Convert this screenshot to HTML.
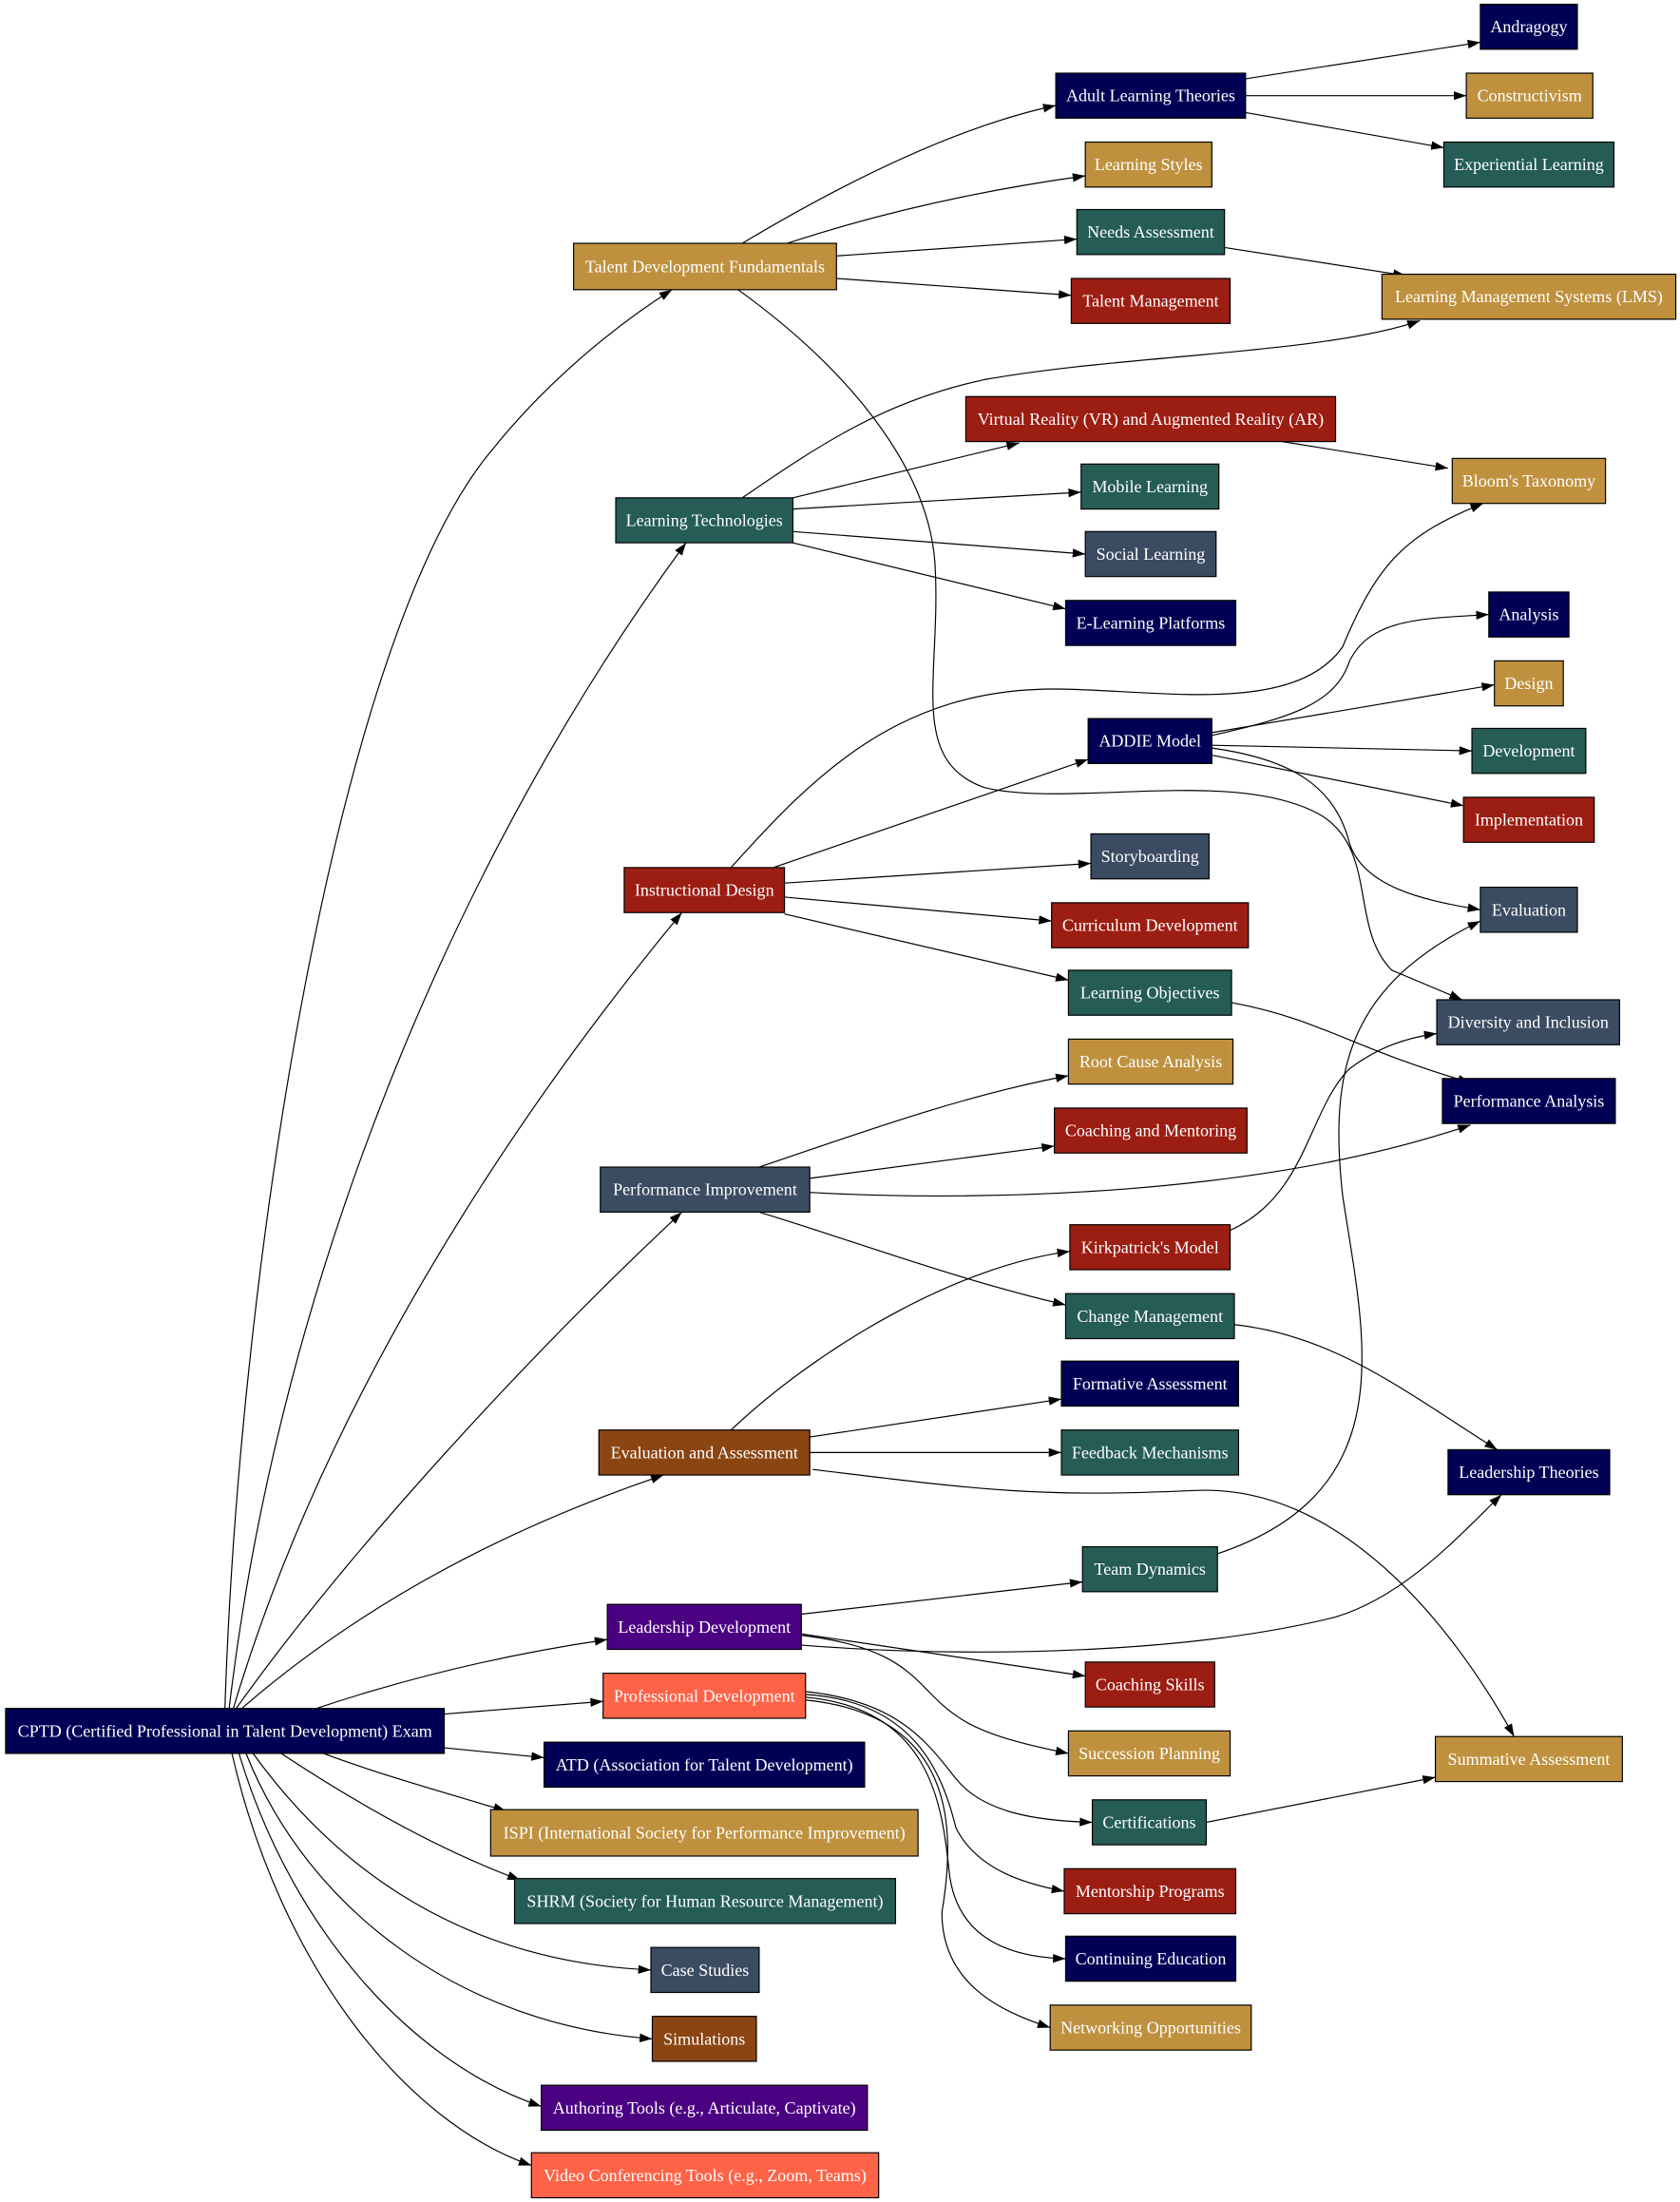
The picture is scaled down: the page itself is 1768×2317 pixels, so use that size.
<!DOCTYPE html>
<html><head><meta charset="utf-8"><style>html,body{margin:0;padding:0;background:#fff}svg{display:block}text{font-family:"Liberation Serif",serif;font-size:12.2px;fill:#fff;text-anchor:middle;dominant-baseline:central}</style></head><body>
<svg width="1768" height="2317" viewBox="0 0 1195 1566" xmlns="http://www.w3.org/2000/svg">
<defs><marker id="a" viewBox="0 0 10 10" refX="10" refY="5" markerWidth="9" markerHeight="9" markerUnits="userSpaceOnUse" orient="auto"><path d="M0,1.5 L10,5 L0,8.5 z" fill="#000"/></marker></defs>
<g fill="none" stroke="#000" stroke-width="0.8" marker-end="url(#a)">
<path d="M160,1215 C170,900 240,450 350,320 C390,270 440,230 478,206"/>
<path d="M163,1215 C200,900 330,600 488,386"/>
<path d="M166,1215 C230,1000 360,800 485,649"/>
<path d="M168,1215 C250,1100 380,960 485,862"/>
<path d="M172,1215 C270,1130 380,1080 472,1049"/>
<path d="M225,1215 C300,1190 370,1175 432,1166"/>
<path d="M316,1219 L429,1210"/>
<path d="M316,1243 L387,1250"/>
<path d="M230,1247 C270,1262 320,1276 360,1288"/>
<path d="M200,1247 C250,1280 310,1315 370,1337"/>
<path d="M180,1247 C240,1330 330,1395 463,1401"/>
<path d="M175,1247 C220,1360 330,1440 464,1450"/>
<path d="M170,1247 C210,1380 300,1470 385,1498"/>
<path d="M165,1247 C200,1400 290,1510 378,1540"/>
<path d="M528,173 C600,130 680,90 751,75"/>
<path d="M560,173 C630,150 700,135 772,125"/>
<path d="M595,182 L766,170"/>
<path d="M595,198 L762,210"/>
<path d="M525,206 C600,260 660,330 665,400 C670,480 645,540 700,560 C760,575 880,545 940,580 C980,605 960,660 990,690 L1040,711"/>
<path d="M886,56 L1053,30"/>
<path d="M886,68 L1043,68"/>
<path d="M886,80 L1027,105"/>
<path d="M871,176 L1000,196"/>
<path d="M528,354 C585,315 630,285 700,270 C800,252 940,252 1010,228"/>
<path d="M564,354 L725,315"/>
<path d="M564,362 L769,350"/>
<path d="M564,378 L772,394"/>
<path d="M564,386 L758,433"/>
<path d="M912,314 L1030,333"/>
<path d="M520,617 C580,550 640,490 750,490 C820,490 920,510 955,460 C980,400 1000,380 1055,358"/>
<path d="M550,617 L774,540"/>
<path d="M558,628 L776,614"/>
<path d="M558,638 L748,655"/>
<path d="M558,650 L760,697"/>
<path d="M862,523 C920,510 950,500 960,470 C975,440 1010,440 1059,437"/>
<path d="M862,521 L1063,487"/>
<path d="M862,530 L1047,534"/>
<path d="M862,537 L1041,573"/>
<path d="M862,532 C920,540 950,560 960,600 C970,630 1010,640 1053,647"/>
<path d="M876,713 C940,725 960,745 1046,770"/>
<path d="M540,830 C600,810 680,780 760,765"/>
<path d="M576,838 L750,815"/>
<path d="M576,848 C700,855 900,850 1046,800"/>
<path d="M540,862 C600,880 680,910 758,928"/>
<path d="M520,1017 C580,960 680,900 761,890"/>
<path d="M576,1022 L755,995"/>
<path d="M576,1033 L755,1033"/>
<path d="M578,1045 C700,1060 740,1065 850,1060 C950,1055 1030,1150 1077,1235"/>
<path d="M875,875 C930,850 930,790 960,760 C980,745 1000,738 1022,735"/>
<path d="M866,1105 C1000,1060 970,950 955,850 C945,760 960,700 1053,655"/>
<path d="M878,942 C950,950 1000,990 1065,1031"/>
<path d="M570,1148 L770,1125"/>
<path d="M570,1170 C700,1180 850,1175 950,1150 C1000,1135 1040,1090 1068,1063"/>
<path d="M570,1162 L772,1192"/>
<path d="M560,1162 C650,1170 650,1200 680,1220 C700,1235 740,1243 760,1247"/>
<path d="M573,1203 C640,1210 660,1240 680,1265 C700,1290 740,1295 777,1296"/>
<path d="M573,1205 C650,1210 670,1260 680,1300 C695,1330 730,1340 757,1345"/>
<path d="M573,1207 C660,1215 670,1280 675,1330 C680,1380 720,1392 758,1393"/>
<path d="M573,1209 C680,1220 680,1300 670,1360 C670,1410 710,1430 747,1442"/>
<path d="M858,1296 L1021,1264"/>
</g>
<g stroke="#000" stroke-width="0.8">
<rect x="1053" y="3" width="69" height="32" fill="#000055"/>
<rect x="1043" y="52" width="90" height="32" fill="#bf913e"/>
<rect x="1027" y="101" width="121" height="32" fill="#255c56"/>
<rect x="751" y="52" width="135" height="32" fill="#000055"/>
<rect x="772" y="101" width="90" height="32" fill="#bf913e"/>
<rect x="766" y="149" width="105" height="32" fill="#255c56"/>
<rect x="762" y="198" width="113" height="32" fill="#9c1d12"/>
<rect x="983" y="195" width="209" height="32" fill="#bf913e"/>
<rect x="408" y="173" width="187" height="33" fill="#bf913e"/>
<rect x="687" y="282" width="263" height="32" fill="#9c1d12"/>
<rect x="769" y="330" width="98" height="32" fill="#255c56"/>
<rect x="772" y="378" width="93" height="32" fill="#3b4b62"/>
<rect x="758" y="427" width="121" height="32" fill="#000055"/>
<rect x="438" y="354" width="126" height="32" fill="#255c56"/>
<rect x="1033" y="326" width="109" height="32" fill="#bf913e"/>
<rect x="1059" y="421" width="57" height="32" fill="#000055"/>
<rect x="1063" y="470" width="49" height="32" fill="#bf913e"/>
<rect x="1047" y="518" width="81" height="32" fill="#255c56"/>
<rect x="1041" y="567" width="93" height="32" fill="#9c1d12"/>
<rect x="774" y="511" width="88" height="32" fill="#000055"/>
<rect x="776" y="593" width="84" height="32" fill="#3b4b62"/>
<rect x="748" y="642" width="140" height="32" fill="#9c1d12"/>
<rect x="760" y="690" width="116" height="32" fill="#255c56"/>
<rect x="444" y="617" width="114" height="32" fill="#9c1d12"/>
<rect x="1053" y="631" width="69" height="32" fill="#3b4b62"/>
<rect x="1022" y="711" width="130" height="32" fill="#3b4b62"/>
<rect x="1026" y="767" width="123" height="32" fill="#000055"/>
<rect x="760" y="739" width="117" height="32" fill="#bf913e"/>
<rect x="750" y="788" width="137" height="32" fill="#9c1d12"/>
<rect x="427" y="830" width="149" height="32" fill="#3b4b62"/>
<rect x="761" y="871" width="114" height="32" fill="#9c1d12"/>
<rect x="758" y="920" width="120" height="32" fill="#255c56"/>
<rect x="755" y="968" width="126" height="32" fill="#000055"/>
<rect x="755" y="1017" width="126" height="32" fill="#255c56"/>
<rect x="426" y="1017" width="150" height="32" fill="#8b4513"/>
<rect x="1030" y="1031" width="115" height="32" fill="#000055"/>
<rect x="770" y="1100" width="96" height="32" fill="#255c56"/>
<rect x="432" y="1141" width="138" height="32" fill="#4b0082"/>
<rect x="772" y="1182" width="92" height="32" fill="#9c1d12"/>
<rect x="429" y="1190" width="144" height="32" fill="#ff6347"/>
<rect x="760" y="1231" width="115" height="32" fill="#bf913e"/>
<rect x="1021" y="1235" width="133" height="32" fill="#bf913e"/>
<rect x="777" y="1280" width="81" height="32" fill="#255c56"/>
<rect x="757" y="1329" width="122" height="32" fill="#9c1d12"/>
<rect x="758" y="1377" width="121" height="32" fill="#000055"/>
<rect x="747" y="1426" width="143" height="32" fill="#bf913e"/>
<rect x="4" y="1215" width="312" height="32" fill="#000055"/>
<rect x="387" y="1239" width="228" height="32" fill="#000055"/>
<rect x="349" y="1287" width="304" height="33" fill="#bf913e"/>
<rect x="366" y="1336" width="271" height="32" fill="#255c56"/>
<rect x="463" y="1385" width="77" height="32" fill="#3b4b62"/>
<rect x="464" y="1434" width="74" height="32" fill="#8b4513"/>
<rect x="385" y="1483" width="232" height="32" fill="#4b0082"/>
<rect x="378" y="1531" width="247" height="32" fill="#ff6347"/>
</g>
<g>
<text x="1087.5" y="19">Andragogy</text>
<text x="1088" y="68">Constructivism</text>
<text x="1087.5" y="117">Experiential Learning</text>
<text x="818.5" y="68">Adult Learning Theories</text>
<text x="817" y="117">Learning Styles</text>
<text x="818.5" y="165">Needs Assessment</text>
<text x="818.5" y="214">Talent Management</text>
<text x="1087.5" y="211">Learning Management Systems (LMS)</text>
<text x="501.5" y="189.5">Talent Development Fundamentals</text>
<text x="818.5" y="298">Virtual Reality (VR) and Augmented Reality (AR)</text>
<text x="818" y="346">Mobile Learning</text>
<text x="818.5" y="394">Social Learning</text>
<text x="818.5" y="443">E-Learning Platforms</text>
<text x="501" y="370">Learning Technologies</text>
<text x="1087.5" y="342">Bloom's Taxonomy</text>
<text x="1087.5" y="437">Analysis</text>
<text x="1087.5" y="486">Design</text>
<text x="1087.5" y="534">Development</text>
<text x="1087.5" y="583">Implementation</text>
<text x="818" y="527">ADDIE Model</text>
<text x="818" y="609">Storyboarding</text>
<text x="818" y="658">Curriculum Development</text>
<text x="818" y="706">Learning Objectives</text>
<text x="501" y="633">Instructional Design</text>
<text x="1087.5" y="647">Evaluation</text>
<text x="1087" y="727">Diversity and Inclusion</text>
<text x="1087.5" y="783">Performance Analysis</text>
<text x="818.5" y="755">Root Cause Analysis</text>
<text x="818.5" y="804">Coaching and Mentoring</text>
<text x="501.5" y="846">Performance Improvement</text>
<text x="818" y="887">Kirkpatrick's Model</text>
<text x="818" y="936">Change Management</text>
<text x="818" y="984">Formative Assessment</text>
<text x="818" y="1033">Feedback Mechanisms</text>
<text x="501" y="1033">Evaluation and Assessment</text>
<text x="1087.5" y="1047">Leadership Theories</text>
<text x="818" y="1116">Team Dynamics</text>
<text x="501" y="1157">Leadership Development</text>
<text x="818" y="1198">Coaching Skills</text>
<text x="501" y="1206">Professional Development</text>
<text x="817.5" y="1247">Succession Planning</text>
<text x="1087.5" y="1251">Summative Assessment</text>
<text x="817.5" y="1296">Certifications</text>
<text x="818" y="1345">Mentorship Programs</text>
<text x="818.5" y="1393">Continuing Education</text>
<text x="818.5" y="1442">Networking Opportunities</text>
<text x="160" y="1231">CPTD (Certified Professional in Talent Development) Exam</text>
<text x="501" y="1255">ATD (Association for Talent Development)</text>
<text x="501" y="1303.5">ISPI (International Society for Performance Improvement)</text>
<text x="501.5" y="1352">SHRM (Society for Human Resource Management)</text>
<text x="501.5" y="1401">Case Studies</text>
<text x="501" y="1450">Simulations</text>
<text x="501" y="1499">Authoring Tools (e.g., Articulate, Captivate)</text>
<text x="501.5" y="1547">Video Conferencing Tools (e.g., Zoom, Teams)</text>
</g>
</svg>
</body></html>
